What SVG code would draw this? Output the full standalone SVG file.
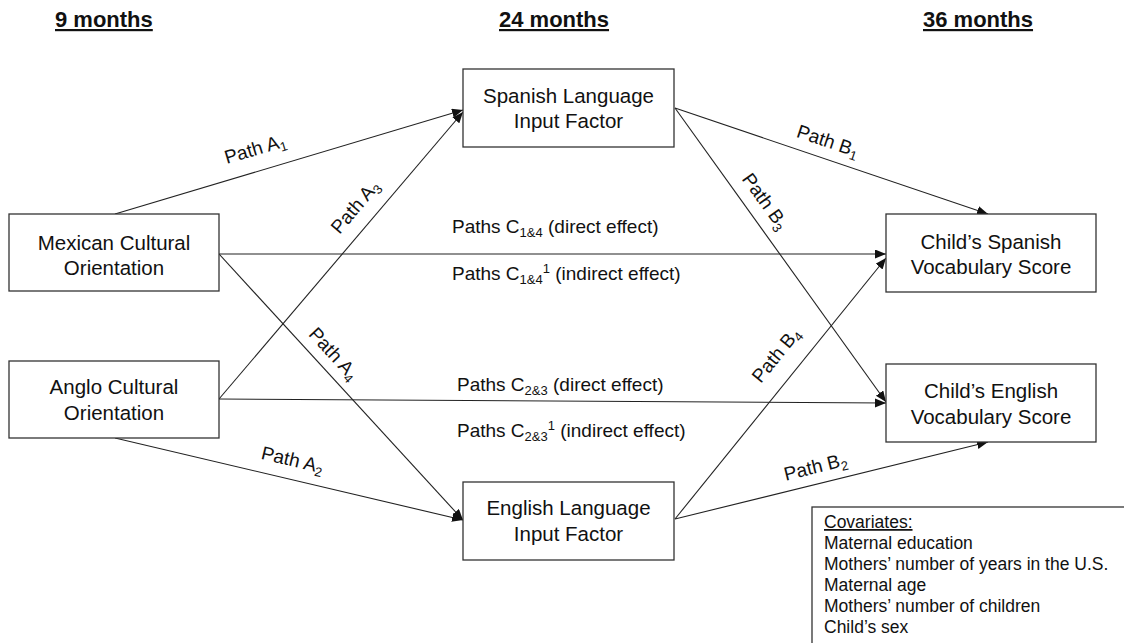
<svg xmlns="http://www.w3.org/2000/svg" width="1124" height="643" viewBox="0 0 1124 643">
<style>
text{font-family:"Liberation Sans",Arial,sans-serif;fill:#111}
.hdr{font-size:22px;font-weight:bold;text-decoration:underline}
.node rect{fill:#fff;stroke:#333;stroke-width:1.3}
.node text{font-size:20.5px;text-anchor:middle}
.lbl{font-size:19px}
.sub{font-size:13px;baseline-shift:-4px}
.sup{font-size:13px;baseline-shift:7px}
.cov{font-size:17.5px}
#connectors line{stroke:#222;stroke-width:1.1;marker-end:url(#arr)}
</style>
<defs>
<marker id="arr" markerUnits="userSpaceOnUse" markerWidth="12" markerHeight="10" refX="11" refY="4.5" orient="auto">
<path d="M0,0 L11,4.5 L0,9 z" fill="#111"/>
</marker>
</defs>
<rect width="1124" height="643" fill="#fff"/>
<g id="headers">
<text class="hdr" x="55" y="27">9 months</text>
<text class="hdr" x="499" y="27">24 months</text>
<text class="hdr" x="923" y="27">36 months</text>
</g>
<g id="connectors">
<line x1="115" y1="214" x2="463" y2="110"/>
<line x1="219" y1="399" x2="463" y2="112"/>
<line x1="219" y1="254" x2="463" y2="520"/>
<line x1="115" y1="438" x2="463" y2="520"/>
<line x1="219" y1="254" x2="886" y2="254"/>
<line x1="219" y1="399" x2="886" y2="403"/>
<line x1="675" y1="108" x2="988" y2="214"/>
<line x1="675" y1="108" x2="886" y2="402"/>
<line x1="675" y1="519" x2="886" y2="258"/>
<line x1="675" y1="519" x2="988" y2="442"/>
</g>
<g id="edge-labels">
<text class="lbl" text-anchor="middle" transform="translate(257,155) rotate(-16.6)">Path A<tspan class="sub">1</tspan></text>
<text class="lbl" text-anchor="middle" transform="translate(360,211) rotate(-49.6)">Path A<tspan class="sub">3</tspan></text>
<text class="lbl" text-anchor="middle" transform="translate(329,358) rotate(47.5)">Path A<tspan class="sub">4</tspan></text>
<text class="lbl" text-anchor="middle" transform="translate(291,466) rotate(13.3)">Path A<tspan class="sub">2</tspan></text>
<text class="lbl" text-anchor="middle" transform="translate(826,147) rotate(18.5)">Path B<tspan class="sub">1</tspan></text>
<text class="lbl" text-anchor="middle" transform="translate(760,205) rotate(54.3)">Path B<tspan class="sub">3</tspan></text>
<text class="lbl" text-anchor="middle" transform="translate(781,359) rotate(-51)">Path B<tspan class="sub">4</tspan></text>
<text class="lbl" text-anchor="middle" transform="translate(817,473) rotate(-13.8)">Path B<tspan class="sub">2</tspan></text>
<text class="lbl" x="452" y="233">Paths C<tspan class="sub">1&amp;4</tspan> (direct effect)</text>
<text class="lbl" x="452" y="280">Paths C<tspan class="sub">1&amp;4</tspan><tspan class="sup">1</tspan> (indirect effect)</text>
<text class="lbl" x="457" y="391">Paths C<tspan class="sub">2&amp;3</tspan> (direct effect)</text>
<text class="lbl" x="457" y="437">Paths C<tspan class="sub">2&amp;3</tspan><tspan class="sup">1</tspan> (indirect effect)</text>
</g>
<g id="mexican" class="node">
<rect x="9" y="214" width="210" height="77"/>
<text x="114" y="249.5">Mexican Cultural</text>
<text x="114" y="274.5">Orientation</text>
</g>
<g id="anglo" class="node">
<rect x="9" y="361" width="210" height="77"/>
<text x="114" y="394">Anglo Cultural</text>
<text x="114" y="420">Orientation</text>
</g>
<g id="spanish-input" class="node">
<rect x="463" y="69" width="211" height="78"/>
<text x="568.5" y="103">Spanish Language</text>
<text x="568.5" y="128">Input Factor</text>
</g>
<g id="english-input" class="node">
<rect x="463" y="482" width="211" height="78"/>
<text x="568.5" y="515">English Language</text>
<text x="568.5" y="541">Input Factor</text>
</g>
<g id="child-spanish" class="node">
<rect x="886" y="214" width="210" height="78"/>
<text x="991" y="249">Child’s Spanish</text>
<text x="991" y="274">Vocabulary Score</text>
</g>
<g id="child-english" class="node">
<rect x="886" y="364" width="210" height="78"/>
<text x="991" y="398">Child’s English</text>
<text x="991" y="424">Vocabulary Score</text>
</g>
<g id="covariates">
<rect x="812" y="507" width="400" height="200" fill="#fff" stroke="#333" stroke-width="1.3"/>
<text class="cov" x="824" y="528" text-decoration="underline">Covariates:</text>
<text class="cov" x="824" y="549">Maternal education</text>
<text class="cov" x="824" y="570">Mothers’ number of years in the U.S.</text>
<text class="cov" x="824" y="591">Maternal age</text>
<text class="cov" x="824" y="612">Mothers’ number of children</text>
<text class="cov" x="824" y="633">Child’s sex</text>
</g>
</svg>
